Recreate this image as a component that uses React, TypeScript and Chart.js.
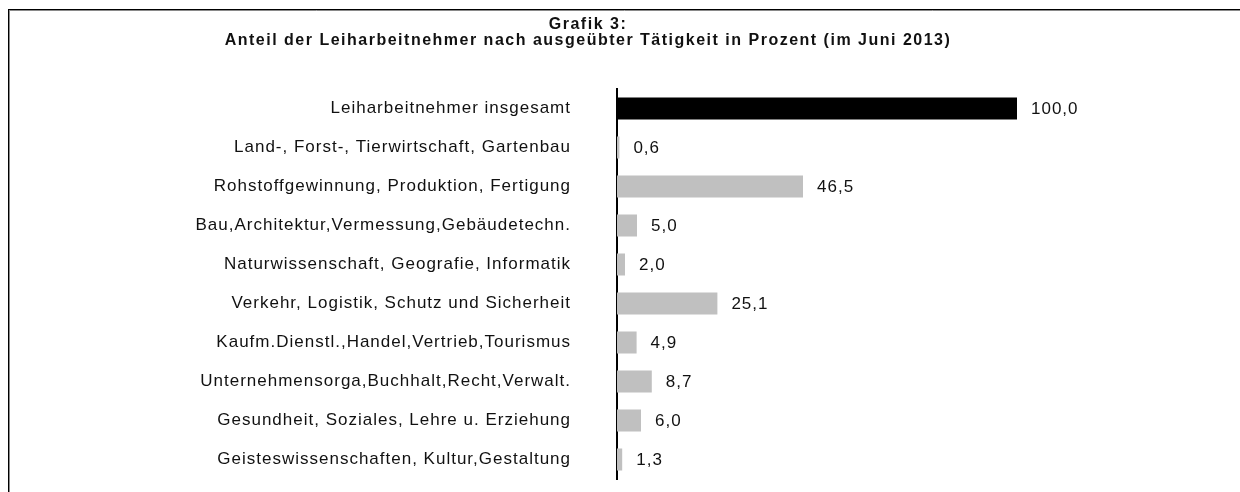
import React, { useEffect, useRef } from "react";
import { Chart, registerables } from "chart.js";

Chart.register(...registerables);

const titleLines = [
  "Grafik 3:",
  "Anteil der Leiharbeitnehmer nach ausgeübter Tätigkeit in Prozent (im Juni 2013)",
];

const categories = [
  "Leiharbeitnehmer insgesamt",
  "Land-, Forst-, Tierwirtschaft, Gartenbau",
  "Rohstoffgewinnung, Produktion, Fertigung",
  "Bau,Architektur,Vermessung,Gebäudetechn.",
  "Naturwissenschaft, Geografie, Informatik",
  "Verkehr, Logistik, Schutz und Sicherheit",
  "Kaufm.Dienstl.,Handel,Vertrieb,Tourismus",
  "Unternehmensorga,Buchhalt,Recht,Verwalt.",
  "Gesundheit, Soziales, Lehre u. Erziehung",
  "Geisteswissenschaften, Kultur,Gestaltung",
];

const values = [100.0, 0.6, 46.5, 5.0, 2.0, 25.1, 4.9, 8.7, 6.0, 1.3];

const barColors = [
  "#000000",
  "#c0c0c0",
  "#c0c0c0",
  "#c0c0c0",
  "#c0c0c0",
  "#c0c0c0",
  "#c0c0c0",
  "#c0c0c0",
  "#c0c0c0",
  "#c0c0c0",
];

const FONT = "'Liberation Sans', Arial, sans-serif";

export default function App() {
  const ref = useRef<HTMLCanvasElement | null>(null);

  useEffect(() => {
    if (!ref.current) return;

    const spacingPlugin = {
      id: "spacing",
      beforeDraw(chart: any) {
        chart.ctx.letterSpacing = "1px";
      },
    };

    const framePlugin = {
      id: "frame",
      afterDraw(chart: any) {
        const ctx = chart.ctx;
        ctx.save();
        ctx.lineWidth = 1;
        ctx.strokeStyle = "#000";
        ctx.beginPath();
        ctx.moveTo(8, 9.5);
        ctx.lineTo(1240, 9.5);
        ctx.moveTo(8.5, 9);
        ctx.lineTo(8.5, 492);
        ctx.stroke();
        ctx.strokeStyle = "#8a8a8a";
        ctx.beginPath();
        ctx.moveTo(9, 10.5);
        ctx.lineTo(1240, 10.5);
        ctx.moveTo(9.5, 10);
        ctx.lineTo(9.5, 492);
        ctx.stroke();

        // title
        ctx.fillStyle = "#111";
        ctx.textAlign = "center";
        ctx.textBaseline = "alphabetic";
        ctx.font = `bold 16px ${FONT}`;
        ctx.letterSpacing = "1.5px";
        ctx.fillText(titleLines[0], 588, 29);
        ctx.fillText(titleLines[1], 588, 45);
        ctx.restore();
      },
    };

    const valueLabels = {
      id: "valueLabels",
      afterDatasetsDraw(chart: any) {
        const ctx = chart.ctx;
        const meta = chart.getDatasetMeta(0);
        ctx.save();
        ctx.font = `17px ${FONT}`;
        ctx.letterSpacing = "1px";
        ctx.fillStyle = "#111";
        ctx.textAlign = "left";
        ctx.textBaseline = "middle";
        meta.data.forEach((bar: any, i: number) => {
          const txt = values[i].toFixed(1).replace(".", ",");
          ctx.fillText(txt, bar.x + 14, bar.y + 1);
        });
        ctx.restore();
      },
    };

    const chart = new Chart(ref.current, {
      type: "bar",
      data: {
        labels: categories,
        datasets: [
          {
            data: values,
            backgroundColor: barColors,
            borderWidth: 0,
            barPercentage: 0.565,
            categoryPercentage: 1,
          },
        ],
      },
      options: {
        indexAxis: "y",
        responsive: false,
        animation: false,
        layout: { padding: { top: 89, bottom: 13, left: 0, right: 23 } },
        plugins: {
          legend: { display: false },
          title: { display: false },
          tooltip: { enabled: false },
        },
        scales: {
          x: {
            display: false,
            min: 0,
            max: 150,
          },
          y: {
            grid: { display: false, drawTicks: false },
            border: { display: true, color: "#000", width: 2 },
            ticks: {
              padding: 46,
              color: "#111",
              font: { family: FONT, size: 17 },
            },
            afterFit(scale: any) {
              scale.width = 617;
              scale.paddingTop = 0;
              scale.paddingBottom = 0;
            },
          },
        },
      },
      plugins: [spacingPlugin, framePlugin, valueLabels],
    });

    return () => chart.destroy();
  }, []);

  return (
    <div
      style={{
        position: "fixed",
        left: 0,
        top: 0,
        width: 1240,
        height: 492,
        background: "#fff",
      }}
    >
      <canvas ref={ref} width={1240} height={492} />
    </div>
  );
}
